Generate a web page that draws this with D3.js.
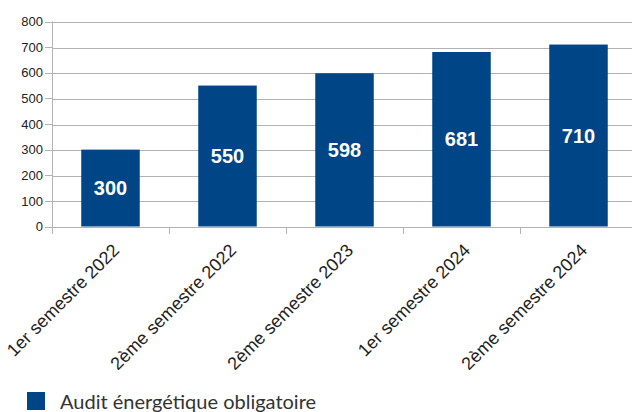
<!DOCTYPE html>
<meta charset="utf-8">
<style>
body { margin: 0; background: #fff; }
svg { display: block; font-family: "Liberation Sans", Arial, sans-serif; }
.grid line { stroke: #b3b3b3; stroke-width: 1; shape-rendering: crispEdges; }
.axis path, .axis line { stroke: #b3b3b3; shape-rendering: crispEdges; }
.axis text { fill: #222; font-size: 13px; }
</style>
<script src="https://d3js.org/d3.v7.min.js"></script>
<body>
<div id="chart"></div>
<script>
// data
var categories = ["1er semestre 2022", "2ème semestre 2022", "2ème semestre 2023", "1er semestre 2024", "2ème semestre 2024"];
var values = [300, 550, 598, 681, 710];
var yTicks = [0, 100, 200, 300, 400, 500, 600, 700, 800];
var seriesName = "Audit énergétique obligatoire";

var W = 632, H = 412;
var margin = {top: 21.5, left: 52, right: 0},
    plotW = 585, plotH = 205;

var svg = d3.select("#chart").append("svg")
  .attr("width", W).attr("height", H);

var g = svg.append("g")
  .attr("transform", "translate(" + margin.left + "," + margin.top + ")");

var x = d3.scaleBand()
  .domain(categories)
  .range([0, plotW])
  .paddingInner(0.5)
  .paddingOuter(0.25);

var y = d3.scaleLinear().domain([0, 800]).range([plotH, 0]);

// gridlines
g.append("g").attr("class", "grid")
  .selectAll("line").data(yTicks).enter().append("line")
  .attr("x1", 0).attr("x2", plotW)
  .attr("y1", function(d) { return Math.round(y(d)) + 0.5; })
  .attr("y2", function(d) { return Math.round(y(d)) + 0.5; });

// y axis
var yAxis = g.append("g").attr("class", "axis")
  .call(d3.axisLeft(y).tickValues(yTicks).tickSize(7).tickPadding(2));
yAxis.select(".domain").remove();
g.append("line")
  .attr("x1", 0.5).attr("x2", 0.5).attr("y1", 0).attr("y2", plotH + 7)
  .attr("stroke", "#b3b3b3");

// bars
g.selectAll(".bar").data(values).enter().append("rect")
  .attr("class", "bar")
  .attr("x", function(d, i) { return x(categories[i]); })
  .attr("width", x.bandwidth())
  .attr("y", function(d) { return y(d); })
  .attr("height", function(d) { return plotH - y(d); })
  .attr("fill", "#004586");

// value labels
g.selectAll(".lbl").data(values).enter().append("text")
  .attr("x", function(d, i) { return x(categories[i]) + x.bandwidth() / 2; })
  .attr("y", function(d) { return (y(d) + plotH) / 2; })
  .attr("dy", "0.36em")
  .attr("text-anchor", "middle")
  .attr("fill", "#fff")
  .style("font-weight", "bold")
  .style("font-size", "20px")
  .text(function(d) { return d; });

// x axis
var step = x.step();
var xAxis = g.append("g").attr("class", "axis")
  .attr("transform", "translate(0," + plotH + ")");
xAxis.append("line").attr("x1", 0).attr("x2", plotW).attr("y1", 0.5).attr("y2", 0.5)
  .attr("stroke", "#b3b3b3");
xAxis.selectAll(".tk").data(d3.range(categories.length + 1)).enter().append("line")
  .attr("x1", function(i) { return Math.round(i * step) + 0.5; })
  .attr("x2", function(i) { return Math.round(i * step) + 0.5; })
  .attr("y1", 0).attr("y2", 7)
  .attr("stroke", "#b3b3b3");
xAxis.selectAll(".xl").data(categories).enter().append("text")
  .attr("text-anchor", "end")
  .attr("transform", function(d) {
    return "translate(" + (x(d) + x.bandwidth() / 2 + 1) + ",16) rotate(-45)";
  })
  .attr("dy", "0.7em")
  .style("font-size", "18px")
  .attr("fill", "#222")
  .text(function(d) { return d; });

// legend
svg.append("rect").attr("x", 27).attr("y", 392).attr("width", 18).attr("height", 18).attr("fill", "#004586");
svg.append("text").attr("x", 60).attr("y", 409)
  .style("font-family", "Lato, sans-serif")
  .style("font-size", "20px")
  .attr("fill", "#333")
  .text(seriesName);
</script>
</body>
